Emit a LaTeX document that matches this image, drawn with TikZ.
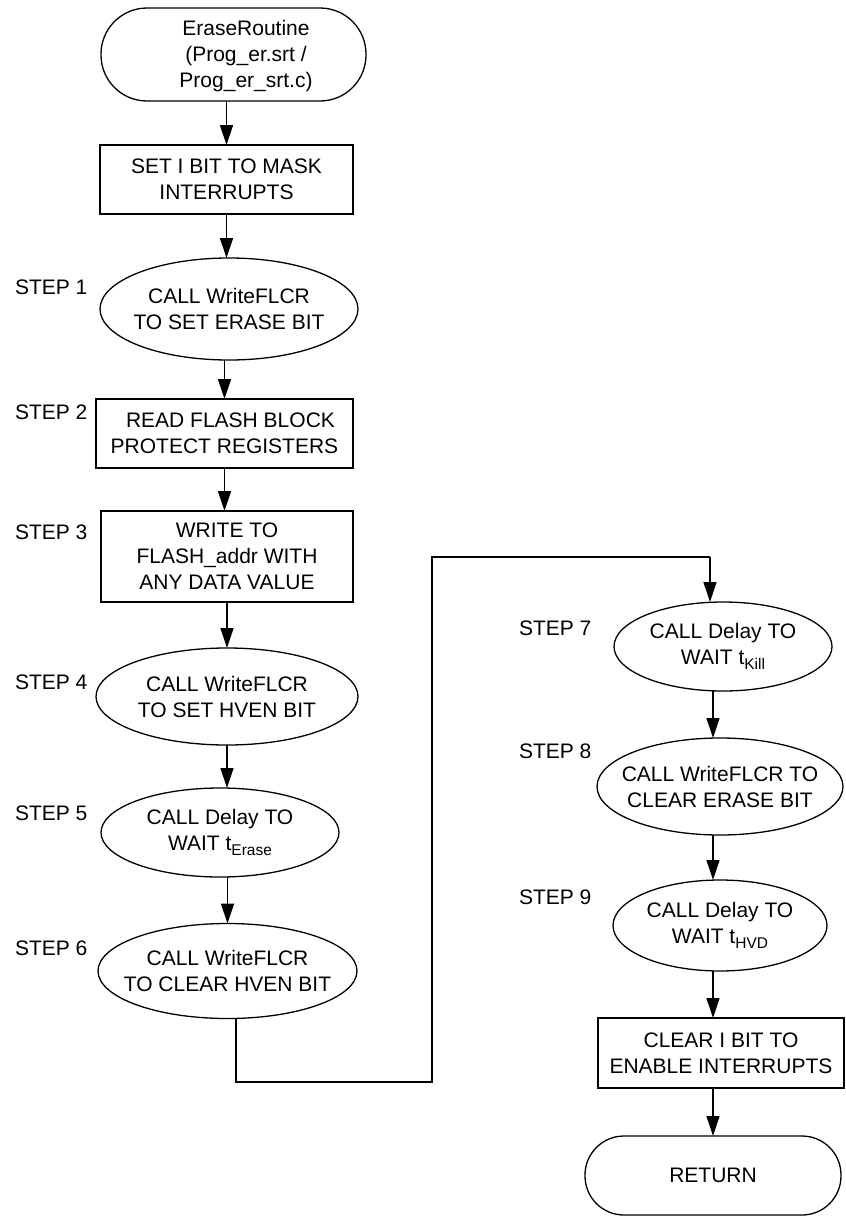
\documentclass[tikz,border=0pt]{standalone}
\usepackage{fontspec}
\setmainfont{Liberation Sans}
\usetikzlibrary{arrows.meta,shapes.geometric}
\newcommand{\tsub}[1]{\raisebox{-5pt}{\fontsize{15.5}{15.5}\selectfont #1}}
\begin{document}
\begin{tikzpicture}[x=1pt,y=-1pt,
  every node/.style={font=\fontsize{21}{26}\selectfont, inner sep=0pt, outer sep=0pt, align=center},
  conn/.style={line width=1.3pt},
  arr/.style={line width=1.3pt, -{Triangle[length=20pt,width=13pt]}},
  procbox/.style={draw, line width=1.3pt, rectangle},
  callell/.style={draw, line width=1.3pt, ellipse, inner sep=-50pt},
  term/.style={draw, line width=1.3pt, rectangle},
  steplbl/.style={anchor=west}
]
\useasboundingbox (0,0) rectangle (846,1216);

% left column
\node[term, rounded corners=46pt, minimum width=265pt, minimum height=93pt] (start) at (233.5,54.5) {};
\node (starttxt) at (246,56) {EraseRoutine\\(Prog\_er.srt /\\Prog\_er\_srt.c)};
\node[procbox, minimum width=253pt, minimum height=69pt] (b1) at (226.5,179.5) {SET I BIT TO MASK\\INTERRUPTS};
\node[callell, minimum width=258pt, minimum height=102pt] (e1) at (229,309) {CALL WriteFLCR\\TO SET ERASE BIT};
\node[procbox, minimum width=257pt, minimum height=69pt] (b2) at (224.5,433.5) {\hspace*{12pt}READ FLASH BLOCK\\PROTECT REGISTERS};
\node[procbox, minimum width=252pt, minimum height=91pt] (b3) at (227,556.5) {WRITE TO\\FLASH\_addr WITH\\ANY DATA VALUE};
\node[callell, minimum width=262pt, minimum height=97pt] (e4) at (227,696.5) {CALL WriteFLCR\\TO SET HVEN BIT};
\node[callell, minimum width=238pt, minimum height=89pt] (e5) at (220,832.5) {CALL Delay TO\\WAIT t\tsub{Erase}};
\node[callell, minimum width=259pt, minimum height=95pt] (e6) at (227.5,971) {CALL WriteFLCR\\TO CLEAR HVEN BIT};

% right column
\node[callell, minimum width=218pt, minimum height=89pt] (e7) at (723,646.5) {CALL Delay TO\\WAIT t\tsub{Kill}};
\node[callell, minimum width=246pt, minimum height=97pt] (e8) at (720,786.5) {CALL WriteFLCR TO\\CLEAR ERASE BIT};
\node[callell, minimum width=214pt, minimum height=91pt] (e9) at (720,925.5) {CALL Delay TO\\WAIT t\tsub{HVD}};
\node[procbox, minimum width=246pt, minimum height=70pt] (b10) at (721,1053) {CLEAR I BIT TO\\ENABLE INTERRUPTS};
\node[term, rounded corners=39pt, minimum width=256pt, minimum height=79pt] (ret) at (713,1175.5) {RETURN};

% step labels
\node[steplbl] (s1) at (15,287) {STEP 1};
\node[steplbl] (s2) at (15,412) {STEP 2};
\node[steplbl] (s3) at (15,532) {STEP 3};
\node[steplbl] (s4) at (15,682) {STEP 4};
\node[steplbl] (s5) at (15,813) {STEP 5};
\node[steplbl] (s6) at (15,948) {STEP 6};
\node[steplbl] (s7) at (519,628) {STEP 7};
\node[steplbl] (s8) at (519,751) {STEP 8};
\node[steplbl] (s9) at (519,897) {STEP 9};

% arrows, left column
\draw[arr] (start.south -| b1.north) -- (b1.north);
\draw[arr] (b1.south) -- (b1.south |- e1.north);
\draw[arr] (e1.south -| b2.north) -- (b2.north);
\draw[arr] (b2.south) -- (b2.south |- b3.north);
\draw[arr] (b3.south) -- (b3.south |- e4.north);
\draw[arr] (e4.south) -- (e4.south |- e5.north);
\draw[arr] (e5.south -| e6.north) -- (e6.north);

% long connector
\coordinate (k0) at ([xshift=8.5pt]e6.south);
\coordinate (k1) at (432,1082);
\coordinate (k2) at (432,557);
\coordinate (k3) at (710,557);
\draw[conn] (k0) |- (k1) -- (k2) -- (k3);
\draw[arr] (k3) -- (k3 |- e7.north);

% arrows, right column
\draw[arr] (e7.south -| ret.north) -- (e8.north -| ret.north);
\draw[arr] (e8.south -| ret.north) -- (e9.north -| ret.north);
\draw[arr] (e9.south -| ret.north) -- (b10.north -| ret.north);
\draw[arr] (b10.south -| ret.north) -- (ret.north);
\end{tikzpicture}
\end{document}
